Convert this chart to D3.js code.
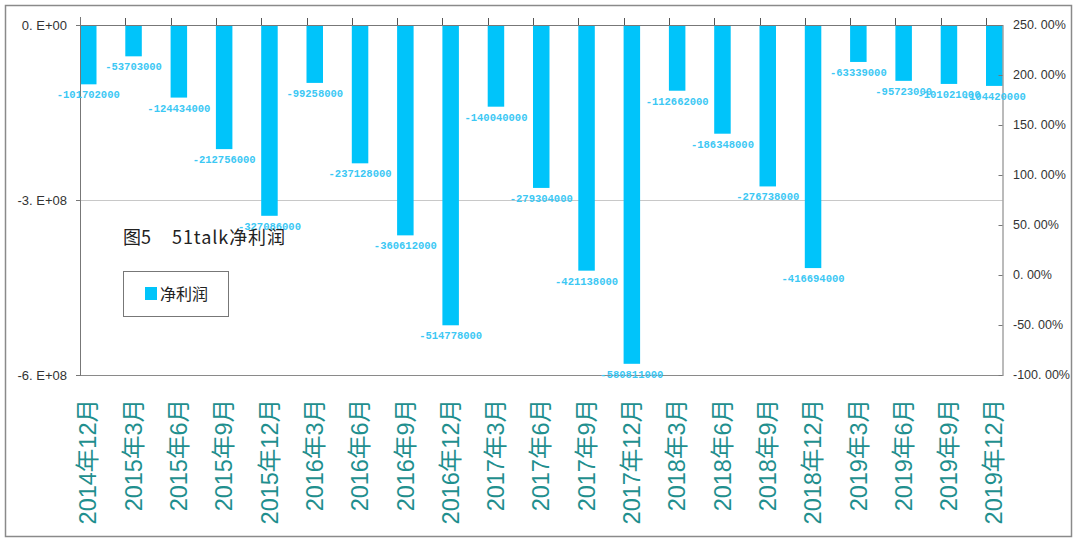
<!DOCTYPE html>
<html><head><meta charset="utf-8">
<script src="https://cdn.jsdelivr.net/npm/d3@7/dist/d3.min.js"></script>
<style>body{margin:0;background:#fff}svg{display:block}</style>
</head><body>
<svg id="c" width="1080" height="543"></svg>
<script>
const categories = ["2014年12月","2015年3月","2015年6月","2015年9月","2015年12月","2016年3月","2016年6月","2016年9月","2016年12月","2017年3月","2017年6月","2017年9月","2017年12月","2018年3月","2018年6月","2018年9月","2018年12月","2019年3月","2019年6月","2019年9月","2019年12月"];
const netProfit = [-101702000,-53703000,-124434000,-212756000,-327086000,-99258000,-237128000,-360612000,-514778000,-140040000,-279304000,-421138000,-580811000,-112662000,-186348000,-276738000,-416694000,-63339000,-95723000,-101021000,-104420000];
const leftTicks = [0,-3e8,-6e8];
const leftTickLabels = ["0. E+00","-3. E+08","-6. E+08"];
const rightTicks = [2.5,2.0,1.5,1.0,0.5,0,-0.5,-1.0];
const rightTickLabels = ["250. 00%","200. 00%","150. 00%","100. 00%","50. 00%","0. 00%","-50. 00%","-100. 00%"];
const seriesName = "净利润";
const titleParts = ["图5", "51talk净利润"];

(function(){
const svg = d3.select("#c");
const plotL = 80, plotT = 25, plotB = 375, step = 45.3, barW = 16.5;
const x = d3.scaleBand().domain(categories).range([plotL, plotL + step*categories.length]).padding(0);
const xEnd = x(categories[categories.length-1]) + barW;
const y = d3.scaleLinear().domain([-6e8, 0]).range([plotB, plotT]);
const y2 = d3.scaleLinear().domain([-1, 2.5]).range([plotB, plotT]);

svg.append("rect").attr("x",5.5).attr("y",5.5).attr("width",1066).attr("height",531)
  .attr("fill","none").attr("stroke","#8a8a8a").attr("stroke-width",1.5);

svg.append("g").selectAll("line").data(leftTicks.filter(d=>d!==0 && d!==-6e8)).join("line")
  .attr("x1",plotL).attr("x2",xEnd).attr("y1",d=>Math.round(y(d))+0.5).attr("y2",d=>Math.round(y(d))+0.5)
  .attr("stroke","#c8c8c8").attr("stroke-width",1);

svg.append("g").selectAll("rect").data(netProfit).join("rect")
  .attr("x",(d,i)=>x(categories[i])).attr("width",barW)
  .attr("y",y(0)).attr("height",d=>y(d)-y(0))
  .attr("fill","#00c4fa");

svg.append("line").attr("x1",plotL).attr("x2",xEnd).attr("y1",plotB+0.5).attr("y2",plotB+0.5)
  .attr("stroke","#8a8a8a");
svg.append("line").attr("x1",plotL).attr("x2",xEnd).attr("y1",plotT+0.5).attr("y2",plotT+0.5)
  .attr("stroke","#777");
svg.append("g").selectAll("line").data(categories).join("line")
  .attr("x1",d=>Math.round(x(d))+0.5).attr("x2",d=>Math.round(x(d))+0.5)
  .attr("y1",18).attr("y2",plotT).attr("stroke","#555");
svg.append("line").attr("x1",plotL+0.5).attr("x2",plotL+0.5).attr("y1",plotT-8).attr("y2",plotB+1)
  .attr("stroke","#777");
svg.append("g").selectAll("line").data(leftTicks).join("line")
  .attr("x1",plotL-4).attr("x2",plotL).attr("y1",d=>Math.round(y(d))+0.5).attr("y2",d=>Math.round(y(d))+0.5)
  .attr("stroke","#777");
svg.append("g").selectAll("text").data(leftTicks).join("text")
  .attr("x",67).attr("y",d=>y(d)).attr("dy","0.35em").attr("text-anchor","end")
  .attr("font-family","Liberation Sans, Arial, sans-serif").attr("font-size",13).attr("fill","#333")
  .text((d,i)=>leftTickLabels[i]);
svg.append("line").attr("x1",xEnd+0.5).attr("x2",xEnd+0.5).attr("y1",plotT).attr("y2",plotB+1)
  .attr("stroke","#777");
svg.append("g").selectAll("line").data(rightTicks).join("line")
  .attr("x1",xEnd-4).attr("x2",xEnd).attr("y1",d=>Math.round(y2(d))+0.5).attr("y2",d=>Math.round(y2(d))+0.5)
  .attr("stroke","#777");
svg.append("g").selectAll("text").data(rightTicks).join("text")
  .attr("x",1013).attr("y",d=>y2(d)).attr("dy","0.35em").attr("text-anchor","start")
  .attr("font-family","Liberation Sans, Arial, sans-serif").attr("font-size",12.5).attr("fill","#333")
  .text((d,i)=>rightTickLabels[i]);

svg.append("g").selectAll("text").data(netProfit).join("text")
  .attr("x",(d,i)=>x(categories[i])+barW/2).attr("y",d=>y(d)+14)
  .attr("text-anchor","middle")
  .attr("font-family","Liberation Mono, DejaVu Sans Mono, monospace").attr("font-size",10.5)
  .attr("font-weight","bold")
  .attr("fill","#3cc8f4")
  .text(d=>"-"+Math.abs(d));

svg.append("g").selectAll("text").data(categories).join("text")
  .attr("transform",d=>`translate(${x(d)+barW/2},399) rotate(-90)`)
  .attr("text-anchor","end").attr("dy","0.35em")
  .attr("font-family","Liberation Sans, Noto Sans CJK SC, sans-serif").attr("font-size",23.5)
  .attr("fill","#1f8f8e")
  .text(d=>d);

const t = svg.append("text").attr("y",238).attr("dy","0.35em")
  .attr("font-family","Noto Sans CJK SC, sans-serif").attr("font-size",18).attr("fill","#222");
t.append("tspan").attr("x",123).text(titleParts[0]);
t.append("tspan").attr("x",172).attr("textLength",113).attr("lengthAdjust","spacing").text(titleParts[1]);

svg.append("rect").attr("x",123.5).attr("y",271.5).attr("width",105).attr("height",45)
  .attr("fill","#fff").attr("stroke","#777");
svg.append("rect").attr("x",145).attr("y",287).attr("width",12).attr("height",13).attr("fill","#00c4fa");
svg.append("text").attr("x",160).attr("y",294).attr("dy","0.35em")
  .attr("font-family","Noto Sans CJK SC, sans-serif").attr("font-size",16).attr("fill","#222")
  .text(seriesName);
})();
</script>
</body></html>
